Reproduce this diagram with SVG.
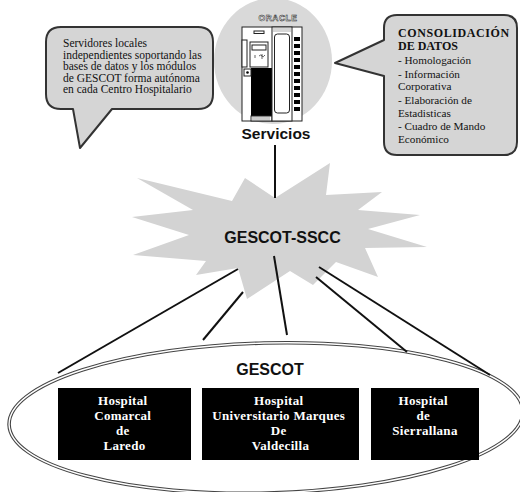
<svg xmlns="http://www.w3.org/2000/svg" width="520" height="492" viewBox="0 0 520 492">
  <style>
    .callout { fill: #d5d5d5; stroke: #333; stroke-width: 2; stroke-linejoin: round; }
    .serif { font-family: "Liberation Serif", "Times New Roman", serif; fill: #111; }
    .sans { font-family: "Liberation Sans", Arial, sans-serif; font-weight: bold; fill: #111; }
    .wire { stroke: #111; stroke-width: 2; fill: none; }
    .hosp { fill: #000; }
    .hosp-text { font-family: "Liberation Serif", "Times New Roman", serif; font-weight: bold; font-size: 13px; fill: #fff; text-anchor: middle; letter-spacing: 0.3px; }
    .tw { fill: #fff; stroke: #222; stroke-width: 1; }
  </style>
  <rect width="520" height="492" fill="#fff"/>

  <!-- Local servers note -->
  <g id="note-local">
    <path class="callout" d="M61,27 H198 Q213,27 213,42 V94 Q213,109 198,109 H112 L80,148 L73,109 H61 Q46,109 46,94 V42 Q46,27 61,27 Z"/>
    <text class="serif" font-size="11.5">
      <tspan x="63" y="47">Servidores locales</tspan>
      <tspan x="63" y="58.5">independientes soportando las</tspan>
      <tspan x="63" y="70">bases de datos y los módulos</tspan>
      <tspan x="63" y="81.5">de GESCOT forma autónoma</tspan>
      <tspan x="63" y="93">en cada Centro Hospitalario</tspan>
    </text>
  </g>

  <!-- Central server -->
  <g id="servicios">
    <ellipse cx="273" cy="61" rx="59" ry="63" fill="#d9d9d9"/>
    <text x="278" y="21" font-family="Liberation Sans, Arial, sans-serif" font-size="8.5" font-weight="bold" fill="#fff" stroke="#222" stroke-width="0.5" text-anchor="middle" letter-spacing="0.5">ORACLE</text>
    <rect class="tw" x="242" y="27" width="60" height="94"/>
    <!-- left bay -->
    <rect class="tw" x="254" y="31" width="10" height="2.5"/>
    <rect class="tw" x="242" y="40" width="5" height="27"/>
    <rect class="tw" x="250" y="42" width="18" height="25"/>
    <rect class="tw" x="252" y="45" width="14" height="5"/>
    <path d="M255,55 v3 M259,56 q2,-2 3,0 t3,-1 M262,54 v5" stroke="#222" stroke-width="0.7" fill="none"/>
    <rect x="251" y="68" width="21" height="48" fill="#000"/>
    <rect class="tw" x="244" y="69" width="7" height="7"/>
    <circle cx="247.5" cy="72.5" r="1.3" fill="#000"/>
    <rect class="tw" x="251" y="116" width="21" height="5"/>
    <path d="M253,116.5 v4 M255,116.5 v4 M257,116.5 v4 M259,116.5 v4 M261,116.5 v4 M263,116.5 v4 M265,116.5 v4 M267,116.5 v4 M269,116.5 v4" stroke="#555" stroke-width="0.6"/>
    <!-- middle bay -->
    <rect class="tw" x="272" y="27" width="20" height="94"/>
    <path d="M274,28 v4 M276,28 v4 M278,28 v4 M280,28 v4 M282,28 v4 M284,28 v4 M286,28 v4 M288,28 v4 M290,28 v4" stroke="#777" stroke-width="0.6"/>
    <rect class="tw" x="274.5" y="34" width="15" height="79" rx="3"/>
    <!-- right bay drive slots -->
    <g fill="#000">
      <rect x="294" y="37" width="6" height="4"/>
      <rect x="294" y="44" width="6" height="4"/>
      <rect x="294" y="51" width="6" height="4"/>
      <rect x="294" y="58" width="6" height="4"/>
      <rect x="294" y="65" width="6" height="4"/>
      <rect x="294" y="72" width="6" height="4"/>
      <rect x="294" y="79" width="6" height="4"/>
      <rect x="294" y="86" width="6" height="4"/>
      <rect x="294" y="93" width="6" height="4"/>
      <rect x="294" y="100" width="6" height="4"/>
      <rect x="294" y="107" width="6" height="4"/>
    </g>
    <text class="sans" x="276" y="139" font-size="15.5" text-anchor="middle">Servicios</text>
  </g>

  <!-- Consolidation note -->
  <g id="note-consolidacion">
    <path class="callout" d="M397,15 H504 Q517,15 517,28 V142 Q517,155 504,155 H397 Q384,155 384,142 V76 L335,63 L384,40 V28 Q384,15 397,15 Z"/>
    <text class="serif" font-size="12" font-weight="bold">
      <tspan x="398" y="37" letter-spacing="0.6">CONSOLIDACIÓN</tspan>
      <tspan x="398" y="49.5">DE DATOS</tspan>
    </text>
    <text class="serif" font-size="11.2">
      <tspan x="398" y="64">- Homologación</tspan>
      <tspan x="398" y="77.5">- Información</tspan>
      <tspan x="398" y="90">Corporativa</tspan>
      <tspan x="398" y="104">- Elaboración de</tspan>
      <tspan x="398" y="117">Estadisticas</tspan>
      <tspan x="398" y="129.5">- Cuadro de Mando</tspan>
      <tspan x="398" y="142.5">Económico</tspan>
    </text>
  </g>

  <!-- Hub -->
  <g id="gescot-sscc">
    <polygon fill="#d3d3d3" points="137,178 232,201 245,178 275,198 330,163 326,195 382,192 358,210 420,215 368,229 427,247 365,248 378,277 336,262 313,285 290,271 247,299 238,268 196,275 206,261 133,255 189,235 132,217 193,210"/>
    <text class="sans" x="282.5" y="243" font-size="16" text-anchor="middle">GESCOT-SSCC</text>
  </g>

  <!-- Hospital network -->
  <g id="gescot">
    <ellipse cx="266" cy="418" rx="257" ry="75" transform="rotate(-1.5 266 418)" fill="none" stroke="#444" stroke-width="3.6"/>
    <ellipse cx="266" cy="418" rx="257" ry="75" transform="rotate(-1.5 266 418)" fill="none" stroke="#fff" stroke-width="1.4"/>
    <text class="sans" x="270" y="375" font-size="16" text-anchor="middle">GESCOT</text>
  </g>

  <g id="hospital-laredo">
    <rect class="hosp" x="58" y="388" width="133" height="72"/>
    <text class="hosp-text">
      <tspan x="124.5" y="405">Hospital</tspan>
      <tspan x="124.5" y="420">Comarcal</tspan>
      <tspan x="124.5" y="435">de</tspan>
      <tspan x="124.5" y="450">Laredo</tspan>
    </text>
  </g>

  <g id="hospital-valdecilla">
    <rect class="hosp" x="202" y="388" width="157" height="72"/>
    <text class="hosp-text">
      <tspan x="280.5" y="405">Hospital</tspan>
      <tspan x="280.5" y="420">Universitario Marques</tspan>
      <tspan x="280.5" y="435">De</tspan>
      <tspan x="280.5" y="450">Valdecilla</tspan>
    </text>
  </g>

  <g id="hospital-sierrallana">
    <rect class="hosp" x="371" y="388" width="108" height="72"/>
    <text class="hosp-text">
      <tspan x="425" y="405">Hospital</tspan>
      <tspan x="425" y="420">de</tspan>
      <tspan x="425" y="435">Sierrallana</tspan>
    </text>
  </g>

  <!-- Links -->
  <g id="connectors">
    <line class="wire" x1="275" y1="145" x2="275" y2="198"/>
    <line class="wire" x1="238" y1="269" x2="58" y2="373"/>
    <line class="wire" x1="243" y1="292" x2="203" y2="340"/>
    <line class="wire" x1="274" y1="256" x2="287" y2="335"/>
    <line class="wire" x1="316" y1="277" x2="407" y2="352"/>
    <line class="wire" x1="319" y1="267" x2="490" y2="375"/>
  </g>
</svg>
